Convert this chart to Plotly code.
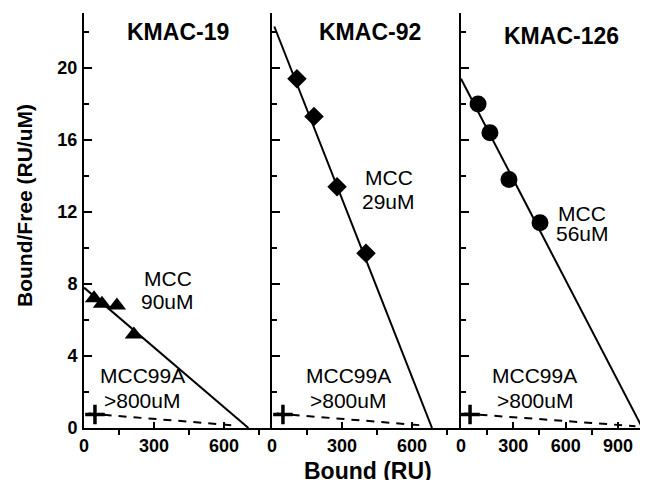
import plotly.graph_objects as go

FONT = "Arial, Liberation Sans, sans-serif"

panel_titles = ["KMAC-19", "KMAC-92", "KMAC-126"]
x_ranges = [[0, 806], [0, 810], [0, 1072]]
x_tickvals = [[0, 300, 600], [0, 300, 600], [0, 300, 600, 900]]

# MCC binding data (Bound RU, Bound/Free RU/uM)
mcc_x = [[43, 77, 141, 214], [107, 180, 279, 403], [98, 166, 275, 453]]
mcc_y = [[7.2, 6.9, 6.8, 5.2], [19.4, 17.3, 13.4, 9.7], [18.0, 16.4, 13.8, 11.4]]
mcc_symbols = ["triangle-up", "diamond", "circle"]
mcc_sizes = [16, 15, 17]

# Scatchard fit lines (endpoints)
fit_x = [[0, 705], [10, 686], [0, 1040]]
fit_y = [[7.8, 0.0], [22.3, 0.0], [19.4, 0.0]]

# MCC99A mutant
mut_x = [[47], [47], [52]]
mut_y = [[0.75], [0.75], [0.75]]
mut_fit_x = [[20, 640], [20, 640], [20, 1000]]
mut_fit_y = [[0.8, 0.15], [0.8, 0.15], [0.8, 0.1]]

# Annotation labels
kd_lines = [["MCC", "90uM"], ["MCC", "29uM"], ["MCC", "56uM"]]
kd_pos_x = [360, 500, 695]
kd_pos_y = [[8.28, 7.0], [13.9, 12.56], [11.94, 10.78]]
mut_lines = ["MCC99A", ">800uM"]
mut_pos_x = [249, 326, 424]
mut_pos_y = [2.89, 1.55]
title_pos_x = [403, 420, 579]
title_pos_y = [22.0, 22.0, 21.8]

Y_RANGE = [0, 23.05]

fig = go.Figure()
domains = [[0, 0.3333], [0.3333, 0.6684], [0.6684, 1.0]]

for i in range(3):
    xa = "x" if i == 0 else f"x{i+1}"
    ya = "y" if i == 0 else f"y{i+1}"
    fig.add_trace(go.Scatter(x=fit_x[i], y=fit_y[i], mode="lines",
                             line=dict(color="black", width=2),
                             xaxis=xa, yaxis=ya, showlegend=False))
    fig.add_trace(go.Scatter(x=mut_fit_x[i], y=mut_fit_y[i], mode="lines",
                             line=dict(color="black", width=2, dash="8px,7px"),
                             xaxis=xa, yaxis=ya, showlegend=False))
    fig.add_trace(go.Scatter(x=mcc_x[i], y=mcc_y[i], mode="markers",
                             marker=dict(symbol=mcc_symbols[i], size=mcc_sizes[i],
                                         color="black"),
                             xaxis=xa, yaxis=ya, showlegend=False))
    fig.add_trace(go.Scatter(x=mut_x[i], y=mut_y[i], mode="markers",
                             marker=dict(symbol="cross-thin", size=14,
                                         line=dict(color="black", width=3.5)),
                             xaxis=xa, yaxis=ya, showlegend=False))

    xkey = "xaxis" if i == 0 else f"xaxis{i+1}"
    ykey = "yaxis" if i == 0 else f"yaxis{i+1}"
    fig.layout[xkey] = dict(
        domain=domains[i], range=x_ranges[i], anchor=ya,
        showline=True, linecolor="black", linewidth=2, showgrid=False,
        zeroline=False, tickmode="array", tickvals=x_tickvals[i],
        ticks="inside", ticklen=6, tickwidth=1.5, tickcolor="black",
        ticklabelstandoff=0,
        tickfont=dict(family=FONT, size=18, color="black", weight="bold"),
        minor=dict(tickmode="linear", tick0=150, dtick=300, ticks="outside",
                   ticklen=5, tickwidth=1.5, tickcolor="black"),
    )
    fig.layout[ykey] = dict(
        domain=[0, 1], range=Y_RANGE, anchor=xa,
        showline=True, linecolor="black", linewidth=2, showgrid=False,
        zeroline=False, tickmode="array", tickvals=[0, 4, 8, 12, 16, 20],
        ticks="inside", ticklen=8, tickwidth=1.5, tickcolor="black",
        showticklabels=(i == 0), ticklabelstandoff=1,
        tickfont=dict(family=FONT, size=18, color="black", weight="bold"),
        minor=dict(tickmode="linear", tick0=2, dtick=4, ticks="inside",
                   ticklen=5, tickwidth=1.5, tickcolor="black"),
    )

    fig.add_annotation(x=title_pos_x[i], y=title_pos_y[i], xref=xa, yref=ya,
                       text=panel_titles[i], showarrow=False,
                       font=dict(family=FONT, size=23, color="black", weight="bold"))
    for j in range(2):
        fig.add_annotation(x=kd_pos_x[i], y=kd_pos_y[i][j], xref=xa, yref=ya,
                           text=kd_lines[i][j], showarrow=False,
                           font=dict(family=FONT, size=21, color="black"))
        fig.add_annotation(x=mut_pos_x[i], y=mut_pos_y[j], xref=xa, yref=ya,
                           text=mut_lines[j], showarrow=False,
                           font=dict(family=FONT, size=21, color="black"))

fig.add_annotation(x=-0.1046, y=0.535, xref="paper", yref="paper",
                   xanchor="center", yanchor="middle",
                   text="Bound/Free (RU/uM)", textangle=-90, showarrow=False,
                   font=dict(family=FONT, size=21, color="black", weight="bold"))
fig.add_annotation(x=0.5035, y=-0.104, xref="paper", yref="paper",
                   text="Bound (RU)", showarrow=False, xanchor="center",
                   yanchor="middle",
                   font=dict(family=FONT, size=23, color="black", weight="bold"))

# page body has an 8px margin: size the figure so the plot area lands at 84..648, 13..428
fig.update_layout(width=640, height=472, margin=dict(l=76, r=0, t=5, b=52),
                  plot_bgcolor="white", paper_bgcolor="white")

fig.write_html("out.html")
